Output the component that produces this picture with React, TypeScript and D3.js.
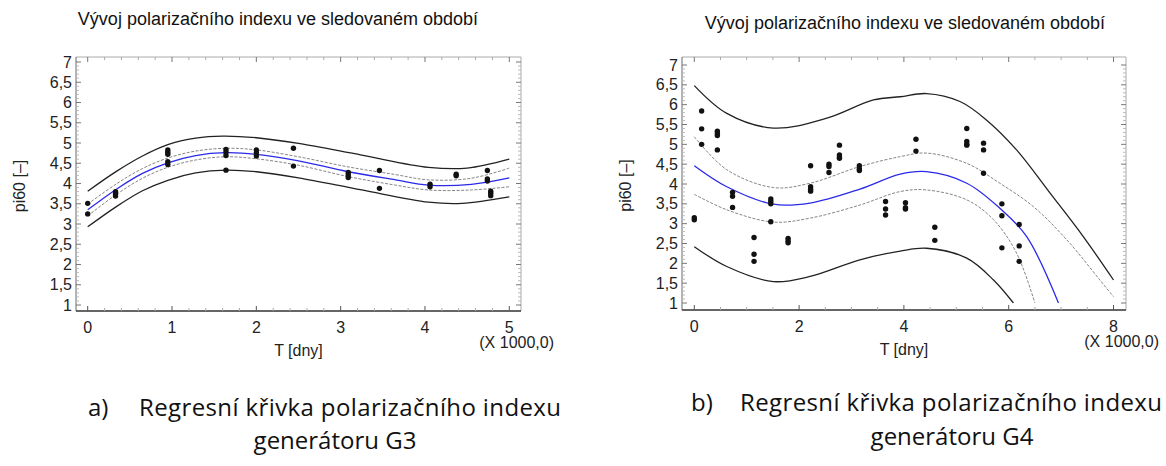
import React from "react";
import * as d3 from "d3";

type P = [number, number];

// ---------- Chart a) G3 ----------
const g3Points: P[] = [
  [0, 3.51], [0, 3.25],
  [0.33, 3.8], [0.33, 3.74], [0.33, 3.69],
  [0.95, 4.83], [0.95, 4.77], [0.95, 4.72], [0.95, 4.54], [0.95, 4.47],
  [1.64, 4.84], [1.64, 4.77], [1.64, 4.69], [1.64, 4.33],
  [2.0, 4.83], [2.0, 4.76], [2.0, 4.68],
  [2.44, 4.87], [2.44, 4.43],
  [3.09, 4.27], [3.09, 4.21], [3.09, 4.15],
  [3.46, 4.32], [3.46, 3.88],
  [4.06, 3.98], [4.06, 3.92],
  [4.37, 4.23], [4.37, 4.19],
  [4.74, 4.32], [4.74, 4.11], [4.74, 4.06],
  [4.78, 3.81], [4.78, 3.76], [4.78, 3.7],
];
const g3Fit: P[] = [
  [0, 3.35], [0.34, 3.86], [0.65, 4.25], [0.95, 4.51], [1.28, 4.69], [1.64, 4.76],
  [2.0, 4.72], [2.5, 4.56], [3.09, 4.29], [3.65, 4.09], [4.04, 3.96], [4.55, 3.98], [5.0, 4.14],
];
const g3ConfUpper: P[] = [
  [0, 3.49], [0.34, 3.99], [0.65, 4.37], [0.95, 4.63], [1.28, 4.8], [1.64, 4.87],
  [2.0, 4.83], [2.5, 4.66], [3.09, 4.41], [3.65, 4.22], [4.04, 4.09], [4.55, 4.13], [5.0, 4.38],
];
const g3ConfLower: P[] = [
  [0, 3.2], [0.34, 3.73], [0.65, 4.13], [0.95, 4.4], [1.28, 4.58], [1.64, 4.66],
  [2.0, 4.61], [2.5, 4.45], [3.09, 4.17], [3.65, 3.96], [4.04, 3.84], [4.55, 3.84], [5.0, 3.92],
];
const g3PredUpper: P[] = [
  [0, 3.81], [0.34, 4.3], [0.65, 4.68], [0.95, 4.96], [1.28, 5.12], [1.6, 5.17],
  [2.0, 5.13], [2.5, 4.99], [3.25, 4.7], [4.04, 4.4], [4.5, 4.38], [5.0, 4.6],
];
const g3PredLower: P[] = [
  [0, 2.93], [0.34, 3.43], [0.65, 3.82], [0.95, 4.08], [1.28, 4.26], [1.64, 4.33],
  [2.0, 4.29], [2.5, 4.14], [3.25, 3.84], [4.04, 3.54], [4.44, 3.51], [5.0, 3.67],
];

// ---------- Chart b) G4 ----------
const g4Points: P[] = [
  [0, 3.15], [0, 3.1],
  [0.14, 5.84], [0.14, 5.39], [0.14, 5.0],
  [0.44, 5.33], [0.44, 5.27], [0.44, 5.22], [0.44, 4.86],
  [0.73, 3.79], [0.73, 3.69], [0.73, 3.41],
  [1.14, 2.65], [1.14, 2.23], [1.14, 2.05],
  [1.46, 3.62], [1.46, 3.56], [1.46, 3.5], [1.46, 3.05],
  [1.79, 2.63], [1.79, 2.57], [1.79, 2.52],
  [2.22, 4.46], [2.22, 3.93], [2.22, 3.87], [2.22, 3.82],
  [2.57, 4.5], [2.57, 4.44], [2.57, 4.29],
  [2.77, 4.98], [2.77, 4.73], [2.77, 4.68], [2.77, 4.65],
  [3.15, 4.46], [3.15, 4.38], [3.15, 4.34],
  [3.65, 3.56], [3.65, 3.37], [3.65, 3.22],
  [4.03, 3.53], [4.03, 3.4], [4.03, 3.37],
  [4.23, 5.13], [4.23, 4.83],
  [4.59, 2.91], [4.59, 2.58],
  [5.2, 5.4], [5.2, 5.07], [5.2, 5.0], [5.2, 4.98],
  [5.52, 5.03], [5.52, 4.86], [5.52, 4.27],
  [5.87, 3.5], [5.87, 3.2], [5.87, 2.39],
  [6.2, 2.98], [6.2, 2.44], [6.2, 2.05],
];
const g4Fit: P[] = [
  [0, 4.46], [0.62, 3.93], [1.51, 3.49], [2.21, 3.52], [3.16, 3.87], [3.93, 4.25],
  [4.43, 4.31], [5.2, 4.02], [5.83, 3.39], [6.34, 2.68], [6.95, 1.0],
];
const g4ConfUpper: P[] = [
  [0, 5.19], [0.62, 4.36], [1.51, 3.91], [2.21, 4.02], [3.16, 4.44], [3.93, 4.69],
  [4.43, 4.78], [5.2, 4.52], [5.83, 4.02], [6.47, 3.43], [7.11, 2.59], [7.74, 1.58], [8.0, 1.16],
];
const g4ConfLower: P[] = [
  [0, 3.74], [0.62, 3.35], [1.51, 3.04], [2.21, 3.14], [3.16, 3.47], [3.93, 3.81],
  [4.43, 3.85], [5.2, 3.6], [5.71, 3.1], [6.15, 2.26], [6.5, 1.0],
];
const g4PredUpper: P[] = [
  [0, 6.48], [0.62, 5.78], [1.51, 5.41], [2.53, 5.66], [3.42, 6.12], [3.93, 6.2],
  [4.43, 6.28], [5.07, 6.08], [5.58, 5.61], [6.15, 4.86], [6.79, 3.77], [7.42, 2.68], [8.0, 1.58],
];
const g4PredLower: P[] = [
  [0, 2.42], [0.62, 1.92], [1.51, 1.54], [2.21, 1.67], [3.16, 2.09], [3.93, 2.31],
  [4.43, 2.38], [5.2, 2.13], [5.71, 1.58], [6.09, 1.0],
];

const titleText = "Vývoj polarizačního indexu ve sledovaném období";
const yLabelText = "pi60 [–]";
const xLabelText = "T [dny]";
const xUnitText = "(X 1000,0)";
const yTickValues = [1, 1.5, 2, 2.5, 3, 3.5, 4, 4.5, 5, 5.5, 6, 6.5, 7];
const g3XTicks = [0, 1, 2, 3, 4, 5];
const g4XTicks = [0, 2, 4, 6, 8];
const captionA = ["a)", "Regresní křivka polarizačního indexu", "generátoru G3"];
const captionB = ["b)", "Regresní křivka polarizačního indexu", "generátoru G4"];

const fmt = (v: number) => String(v).replace(".", ",");
const FONT = "'Liberation Sans', Arial, sans-serif";
const CAPFONT = "'Open Sans', 'Noto Sans', sans-serif";

type ChartProps = {
  id: string;
  frame: { x0: number; x1: number; y0: number; y1: number };
  xRange: [number, number];
  yRange: [number, number];
  xDomain: [number, number];
  xMajor: number[];
  xMinorStep: number;
  xMinorFrom: number;
  xMinorTo: number;
  points: P[];
  fit: P[];
  confU: P[];
  confL: P[];
  predU: P[];
  predL: P[];
  titleX: number;
  titleY: number;
};

function Chart(p: ChartProps) {
  const x = d3.scaleLinear().domain(p.xDomain).range(p.xRange);
  const y = d3.scaleLinear().domain([1, 7]).range(p.yRange);
  const line = d3
    .line<P>()
    .x((d) => x(d[0]))
    .y((d) => y(d[1]))
    .curve(d3.curveCatmullRom.alpha(0.5));
  const { x0, x1, y0, y1 } = p.frame;
  const yMinor = d3
    .range(10, 71, 1)
    .map((v) => v / 10)
    .filter((v) => Math.abs(v * 2 - Math.round(v * 2)) > 1e-6);
  const xMinor = d3
    .range(Math.round(p.xMinorFrom / p.xMinorStep), Math.round(p.xMinorTo / p.xMinorStep) + 1)
    .map((i) => i * p.xMinorStep)
    .filter((v) => !p.xMajor.some((m) => Math.abs(m - v) < 1e-6));
  const clipId = `clip-${p.id}`;
  return (
    <g>
      <defs>
        <clipPath id={clipId}>
          <rect x={x0} y={y0} width={x1 - x0} height={y(1) - y0 + 0.5} />
        </clipPath>
      </defs>
      <text x={p.titleX} y={p.titleY} textAnchor="middle" fontFamily={FONT} fontSize={18} fill="#111">
        {titleText}
      </text>
      {/* frame */}
      <line x1={x0} x2={x1} y1={y0} y2={y0} stroke="#aaa" strokeWidth={1} />
      <line x1={x1} x2={x1} y1={y0} y2={y1} stroke="#aaa" strokeWidth={1} />
      <line x1={x0} x2={x0} y1={y0} y2={y1} stroke="#666" strokeWidth={1} />
      <line x1={x0} x2={x1} y1={y1} y2={y1} stroke="#333" strokeWidth={1.3} />
      {/* y ticks */}
      {yTickValues.map((v) => (
        <g key={`ym${v}`}>
          <line x1={x0} x2={x0 + 5} y1={y(v)} y2={y(v)} stroke="#777" />
          <line x1={x1} x2={x1 - 5} y1={y(v)} y2={y(v)} stroke="#777" />
          <text x={x0 - 4} y={y(v) + 5.5} textAnchor="end" fontFamily={FONT} fontSize={16} fill="#222">
            {fmt(v)}
          </text>
        </g>
      ))}
      {yMinor.map((v) => (
        <g key={`yn${v}`}>
          <line x1={x0} x2={x0 + 3} y1={y(v)} y2={y(v)} stroke="#bbb" />
          <line x1={x1} x2={x1 - 3} y1={y(v)} y2={y(v)} stroke="#bbb" />
        </g>
      ))}
      {/* x ticks */}
      {p.xMajor.map((v) => (
        <g key={`xm${v}`}>
          <line x1={x(v)} x2={x(v)} y1={y1} y2={y1 - 5} stroke="#555" />
          <line x1={x(v)} x2={x(v)} y1={y0} y2={y0 + 5} stroke="#777" />
          <text x={x(v)} y={y1 + 22} textAnchor="middle" fontFamily={FONT} fontSize={16} fill="#222">
            {fmt(v)}
          </text>
        </g>
      ))}
      {xMinor.map((v) => (
        <g key={`xn${v}`}>
          <line x1={x(v)} x2={x(v)} y1={y1} y2={y1 - 3} stroke="#aaa" />
          <line x1={x(v)} x2={x(v)} y1={y0} y2={y0 + 3} stroke="#aaa" />
        </g>
      ))}
      {/* axis titles */}
      <text
        transform={`translate(${x0 - 51},${(y0 + y1) / 2 + 2}) rotate(-90)`}
        textAnchor="middle"
        fontFamily={FONT}
        fontSize={16}
        fill="#222"
      >
        {yLabelText}
      </text>
      <text x={(x0 + x1) / 2} y={y1 + 45} textAnchor="middle" fontFamily={FONT} fontSize={16} fill="#222">
        {xLabelText}
      </text>
      <text x={x1 + 33} y={y1 + 37} textAnchor="end" fontFamily={FONT} fontSize={16} fill="#222">
        {xUnitText}
      </text>
      {/* curves */}
      <g clipPath={`url(#${clipId})`} fill="none">
        <path d={line(p.predU) || ""} stroke="#222" strokeWidth={1.3} />
        <path d={line(p.predL) || ""} stroke="#222" strokeWidth={1.3} />
        <path d={line(p.confU) || ""} stroke="#777" strokeWidth={0.9} strokeDasharray="3,1.5" />
        <path d={line(p.confL) || ""} stroke="#777" strokeWidth={0.9} strokeDasharray="3,1.5" />
        <path d={line(p.fit) || ""} stroke="#2a2ae8" strokeWidth={1.3} />
      </g>
      {p.points.map((d, i) => (
        <circle key={i} cx={x(d[0])} cy={y(d[1])} r={2.7} fill="#111" />
      ))}
    </g>
  );
}

function Caption(props: { lines: string[]; x: number; tx: number; y: number; cx: number; y2: number }) {
  const { lines, x, tx, y, cx, y2 } = props;
  return (
    <g fontFamily={CAPFONT} fontSize={24} fill="#111">
      <text x={x} y={y}>{lines[0]}</text>
      <text x={tx} y={y} textLength={422} lengthAdjust="spacing">{lines[1]}</text>
      <text x={cx} y={y2} textAnchor="middle">{lines[2]}</text>
    </g>
  );
}

export default function App() {
  return (
    <svg
      width={1166}
      height={466}
      style={{ position: "absolute", left: 0, top: 0, background: "#fff" }}
    >
      <rect width={1166} height={466} fill="#fff" />
      <Chart
        id="g3"
        frame={{ x0: 76, x1: 521, y0: 57, y1: 311 }}
        xRange={[87.7, 509.3]}
        yRange={[305, 62]}
        xDomain={[0, 5]}
        xMajor={g3XTicks}
        xMinorStep={0.2}
        xMinorFrom={0}
        xMinorTo={5.0}
        points={g3Points}
        fit={g3Fit}
        confU={g3ConfUpper}
        confL={g3ConfLower}
        predU={g3PredUpper}
        predL={g3PredLower}
        titleX={278}
        titleY={25}
      />
      <Chart
        id="g4"
        frame={{ x0: 682, x1: 1126, y0: 57, y1: 310 }}
        xRange={[694.3, 1113.5]}
        yRange={[303, 65]}
        xDomain={[0, 8]}
        xMajor={g4XTicks}
        xMinorStep={0.5}
        xMinorFrom={0}
        xMinorTo={8}
        points={g4Points}
        fit={g4Fit}
        confU={g4ConfUpper}
        confL={g4ConfLower}
        predU={g4PredUpper}
        predL={g4PredLower}
        titleX={905}
        titleY={29}
      />
      <Caption lines={captionA} x={88} tx={139} y={416} cx={335} y2={449} />
      <Caption lines={captionB} x={691} tx={740} y={411} cx={952} y2={445} />
    </svg>
  );
}
